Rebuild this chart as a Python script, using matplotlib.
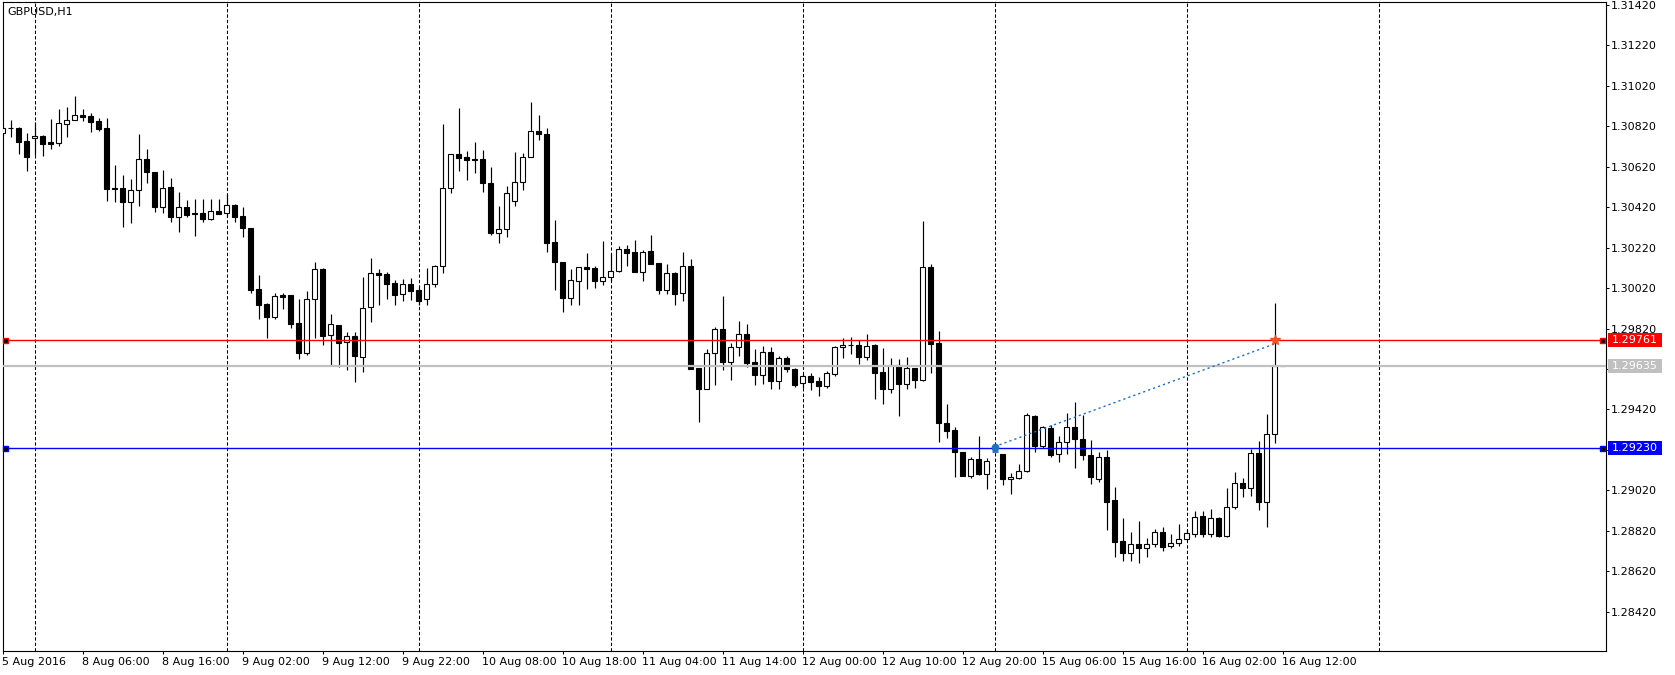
import matplotlib
matplotlib.use('Agg')
import matplotlib.pyplot as plt
import matplotlib.transforms as mtransforms
from matplotlib.patches import Rectangle
import numpy as np

# ---- GBPUSD H1 candles, 5 Aug 2016 20:00 .. 16 Aug 2016 12:00 (bar index -4 .. 156) ----
first_index = -4

open_ = [
    1.30786, 1.30813, 1.30812, 1.30747, 1.30761, 1.30772, 1.30743, 1.30739, 1.30830, 1.30850,
    1.30875, 1.30871, 1.30846, 1.30812, 1.30514, 1.30514, 1.30444, 1.30504, 1.30657, 1.30594,
    1.30420, 1.30519, 1.30370, 1.30420, 1.30393, 1.30390, 1.30362, 1.30401, 1.30390, 1.30431,
    1.30377, 1.30316, 1.30016, 1.29941, 1.29879, 1.29984, 1.29986, 1.29846, 1.29701, 1.29965,
    1.30114, 1.29787, 1.29836, 1.29752, 1.29783, 1.29681, 1.29925, 1.30095, 1.30090,
    1.30045, 1.29989, 1.30040, 1.30011, 1.29968, 1.30039, 1.30128, 1.30514, 1.30683, 1.30670,
    1.30657, 1.30657, 1.30540, 1.30291, 1.30311, 1.30451, 1.30546, 1.30667, 1.30797, 1.30782,
    1.30247, 1.30151, 1.29971, 1.30057, 1.30123, 1.30118, 1.30057, 1.30076, 1.30106, 1.30212,
    1.30197, 1.30101, 1.30202, 1.30144, 1.30012, 1.30096, 1.29994, 1.30128, 1.29623, 1.29521,
    1.29698, 1.29818, 1.29656, 1.29727, 1.29793, 1.29653, 1.29592, 1.29703, 1.29559, 1.29673,
    1.29620, 1.29549, 1.29584, 1.29559, 1.29537, 1.29595, 1.29727, 1.29737, 1.29737,
    1.29678, 1.29739, 1.29604, 1.29523, 1.29638, 1.29547, 1.29625, 1.29567, 1.30123, 1.29749,
    1.29354, 1.29318, 1.29208, 1.29092, 1.29173, 1.29099, 1.29234, 1.29200, 1.29075, 1.29082,
    1.29117, 1.29388, 1.29239, 1.29327, 1.29200, 1.29260, 1.29332, 1.29272, 1.29195, 1.29076,
    1.29186, 1.28972, 1.28769, 1.28712, 1.28753, 1.28733, 1.28753, 1.28812, 1.28745, 1.28758,
    1.28778, 1.28803, 1.28892, 1.28803, 1.28882, 1.28796, 1.28939, 1.29055, 1.29030, 1.29203,
    1.28964, 1.29297, 1.29635,
]

high_ = [
    1.30822, 1.30851, 1.30818, 1.30786, 1.30843, 1.30777, 1.30855, 1.30906, 1.30914, 1.30970,
    1.30904, 1.30887, 1.30860, 1.30860, 1.30629, 1.30579, 1.30560, 1.30782, 1.30708, 1.30594,
    1.30604, 1.30563, 1.30494, 1.30456, 1.30459, 1.30459, 1.30459, 1.30459, 1.30484, 1.30436,
    1.30420, 1.30317, 1.30085, 1.29948, 1.29996, 1.29996, 1.29986, 1.29966, 1.30006, 1.30149,
    1.30118, 1.29890, 1.29836, 1.29801, 1.29801, 1.30073, 1.30167, 1.30113, 1.30101, 1.30059,
    1.30064, 1.30070, 1.30027, 1.30119, 1.30134, 1.30832, 1.30683, 1.30909, 1.30698, 1.30741,
    1.30703, 1.30620, 1.30426, 1.30526, 1.30692, 1.30687, 1.30939, 1.30876, 1.30810, 1.30357,
    1.30151, 1.30113, 1.30126, 1.30194, 1.30128, 1.30251, 1.30189, 1.30228, 1.30233, 1.30258,
    1.30208, 1.30283, 1.30144, 1.30139, 1.30101, 1.30199, 1.30162, 1.29623, 1.29717, 1.29826,
    1.29981, 1.29750, 1.29859, 1.29843, 1.29717, 1.29734, 1.29729, 1.29686, 1.29686, 1.29625,
    1.29595, 1.29599, 1.29582, 1.29612, 1.29735, 1.29775, 1.29780, 1.29763, 1.29793, 1.29744,
    1.29724, 1.29674, 1.29671, 1.29678, 1.29625, 1.30352, 1.30139, 1.29808, 1.29447, 1.29332,
    1.29211, 1.29183, 1.29289, 1.29178, 1.29249, 1.29200, 1.29104, 1.29149, 1.29404, 1.29393,
    1.29340, 1.29343, 1.29289, 1.29401, 1.29455, 1.29393, 1.29269, 1.29210, 1.29219, 1.29038,
    1.28885, 1.28814, 1.28868, 1.28783, 1.28827, 1.28837, 1.28803, 1.28853, 1.28827, 1.28918,
    1.28918, 1.28928, 1.28887, 1.29030, 1.29109, 1.29079, 1.29223, 1.29265, 1.29397, 1.29948,
    1.29635,
]

low_ = [
    1.30777, 1.30769, 1.30683, 1.30601, 1.30678, 1.30675, 1.30709, 1.30724, 1.30769, 1.30850,
    1.30848, 1.30793, 1.30797, 1.30451, 1.30447, 1.30324, 1.30343, 1.30428, 1.30541, 1.30398,
    1.30393, 1.30348, 1.30299, 1.30373, 1.30279, 1.30348, 1.30357, 1.30386, 1.30373, 1.30348,
    1.30274, 1.29997, 1.29867, 1.29775, 1.29867, 1.29918, 1.29824, 1.29668, 1.29689, 1.29772,
    1.29739, 1.29636, 1.29631, 1.29615, 1.29557, 1.29607, 1.29854, 1.29936, 1.29968, 1.29938,
    1.29956, 1.29961, 1.29936, 1.29936, 1.30027, 1.30096, 1.30489, 1.30601, 1.30555, 1.30588,
    1.30497, 1.30283, 1.30242, 1.30274, 1.30428, 1.30505, 1.30667, 1.30752, 1.30200, 1.30011,
    1.29903, 1.29936, 1.29936, 1.30016, 1.30021, 1.30034, 1.30055, 1.30101, 1.30131, 1.30101,
    1.30055, 1.30141, 1.29991, 1.29991, 1.29936, 1.29956, 1.29620, 1.29359, 1.29521, 1.29541,
    1.29615, 1.29566, 1.29686, 1.29631, 1.29541, 1.29546, 1.29521, 1.29521, 1.29604, 1.29529,
    1.29525, 1.29516, 1.29488, 1.29525, 1.29587, 1.29676, 1.29693, 1.29645, 1.29664, 1.29472,
    1.29448, 1.29503, 1.29389, 1.29520, 1.29525, 1.29559, 1.29602, 1.29260, 1.29280, 1.29087,
    1.29091, 1.29082, 1.29096, 1.29027, 1.29214, 1.29048, 1.29000, 1.29075, 1.29112, 1.29211,
    1.29228, 1.29186, 1.29162, 1.29200, 1.29132, 1.29170, 1.29050, 1.29061, 1.28824, 1.28692,
    1.28672, 1.28672, 1.28659, 1.28689, 1.28741, 1.28721, 1.28733, 1.28745, 1.28774, 1.28788,
    1.28788, 1.28791, 1.28791, 1.28791, 1.28928, 1.28988, 1.28992, 1.28923, 1.28840, 1.29256,
    1.29635,
]

close_ = [
    1.30813, 1.30812, 1.30744, 1.30670, 1.30772, 1.30733, 1.30733, 1.30835, 1.30851, 1.30875,
    1.30868, 1.30843,
    1.30808, 1.30512, 1.30512, 1.30444, 1.30504, 1.30657, 1.30593, 1.30420, 1.30514, 1.30370,
    1.30420, 1.30382, 1.30386, 1.30363, 1.30400, 1.30388, 1.30429, 1.30373, 1.30316, 1.30011,
    1.29936, 1.29879, 1.29979, 1.29978, 1.29844, 1.29701, 1.29965, 1.30113, 1.29785, 1.29841,
    1.29750, 1.29782, 1.29686, 1.29920, 1.30093, 1.30086, 1.30042, 1.29987, 1.30039, 1.30007,
    1.29958, 1.30039, 1.30129, 1.30514, 1.30682, 1.30665, 1.30655, 1.30655, 1.30538, 1.30291,
    1.30311, 1.30489, 1.30546, 1.30667, 1.30795, 1.30781, 1.30245, 1.30151, 1.29973, 1.30059,
    1.30123, 1.30116, 1.30057, 1.30076, 1.30106, 1.30212, 1.30195, 1.30101, 1.30200, 1.30141,
    1.30012, 1.30093, 1.29992, 1.30128, 1.29620, 1.29521, 1.29698, 1.29818, 1.29656, 1.29727,
    1.29793, 1.29651, 1.29592, 1.29703, 1.29559, 1.29673, 1.29618, 1.29542, 1.29584, 1.29557,
    1.29537, 1.29599, 1.29727, 1.29737, 1.29737, 1.29678, 1.29732, 1.29602, 1.29523, 1.29638,
    1.29547, 1.29625, 1.29567, 1.30123, 1.29745, 1.29351, 1.29315, 1.29211, 1.29092, 1.29173,
    1.29099, 1.29164, 1.29224, 1.29075, 1.29084, 1.29117, 1.29393, 1.29239, 1.29332, 1.29195,
    1.29260, 1.29332, 1.29272, 1.29195, 1.29084, 1.29183, 1.28964, 1.28766, 1.28712, 1.28753,
    1.28733, 1.28753, 1.28812, 1.28741, 1.28758, 1.28778, 1.28807, 1.28887, 1.28803, 1.28882,
    1.28796, 1.28936, 1.29055, 1.29030, 1.29203, 1.28964, 1.29297, 1.29635, 1.29635,
]

day_starts = [0, 24, 48, 72, 96, 120, 144, 168]   # bar index of 00:00 of each day
tick_idx = [-4, 6, 16, 26, 36, 46, 56, 66, 76, 86, 96, 106, 116, 126, 136, 146, 156]
tick_labels = ['5 Aug 2016', '8 Aug 06:00', '8 Aug 16:00', '9 Aug 02:00', '9 Aug 12:00',
               '9 Aug 22:00', '10 Aug 08:00', '10 Aug 18:00', '11 Aug 04:00', '11 Aug 14:00',
               '12 Aug 00:00', '12 Aug 10:00', '12 Aug 20:00', '15 Aug 06:00', '15 Aug 16:00',
               '16 Aug 02:00', '16 Aug 12:00']
price_ticks = [1.28420, 1.28620, 1.28820, 1.29020, 1.29220, 1.29420, 1.29620, 1.29820,
               1.30020, 1.30220, 1.30420, 1.30620, 1.30820, 1.31020, 1.31220, 1.31420]
level_prices = [1.29761, 1.29635, 1.29230]
level_colors = ['#FF0000', '#C0C0C0', '#0000FF']
trade_idx = [120, 155]
trade_prices = [1.29236, 1.29744]

# ---- figure ----
plt.rcParams['font.family'] = ['DejaVu Sans']
plt.rcParams['font.size'] = 8
plt.rcParams['lines.scale_dashes'] = False

W, H = 1675, 675
fig = plt.figure(figsize=(W / 100, H / 100), dpi=100)
axl, axr, axt, axb = 2.5, 1605.5, 2.0, 651.0
ax = fig.add_axes([axl / W, 1 - axb / H, (axr - axl) / W, (axb - axt) / H])
ymin, ymax = 1.282255, 1.314348
ax.set_xlim(first_index, first_index + (axr - axl) / 8.0)
ax.set_ylim(ymin, ymax)

o = np.array(open_)
h = np.array(high_)
l = np.array(low_)
c = np.array(close_)
x = np.arange(len(o)) + first_index

ax.vlines(day_starts, 0, 1, transform=ax.get_xaxis_transform(), colors='black',
          linestyles=(0, (2.4, 1.5)), lw=0.75, zorder=1)
ax.vlines(x, l, h, color='black', lw=0.85, zorder=3)
bottom = np.minimum(o, c)
height = np.abs(c - o)
bull = c > o
ax.bar(x[bull], height[bull], bottom=bottom[bull], width=0.52, color='white',
       edgecolor='black', lw=0.8, zorder=4)
ax.bar(x[~bull], height[~bull], bottom=bottom[~bull], width=0.52, color='black',
       edgecolor='black', lw=0.8, zorder=4)

trans = mtransforms.blended_transform_factory(ax.transAxes, ax.transData)
px_per_price = (axb - axt) / (ymax - ymin)
lws = [1.0, 1.6, 1.0]
for p, col, lw in zip(level_prices, level_colors, lws):
    ax.axhline(p, color=col, lw=lw, zorder=5)
    hh = 7.0 / px_per_price
    ax.add_patch(Rectangle(((1608.3 - axl) / (axr - axl), p - hh), 53.4 / (axr - axl), 2 * hh,
                           transform=trans, facecolor=col, edgecolor='none', clip_on=False,
                           zorder=8))
    ax.text((1635.0 - axl) / (axr - axl), p, '%.5f' % p, transform=trans, color='white',
            ha='center', va='center', fontsize=8, zorder=9, clip_on=False)
for p, col in zip([level_prices[0], level_prices[2]], [level_colors[0], level_colors[2]]):
    ax.plot([(5 - axl) / (axr - axl), (1602.3 - axl) / (axr - axl)], [p, p], ls='none',
            marker='s', ms=3.6, mfc='black', mec=col, mew=1.0, transform=trans,
            clip_on=False, zorder=7)

ax.plot(trade_idx, trade_prices, color='#1F6FC5', lw=1.0, ls=(0, (1.6, 2.2)), zorder=6)
ax.plot([trade_idx[0]], [trade_prices[0]], marker='o', ms=4.5, color='#1F6FC5', zorder=7)
ax.plot([trade_idx[0]], [trade_prices[0] - 4.5 / px_per_price], marker='_', ms=5, mew=2,
        color='#1F6FC5', zorder=7)
ax.plot([trade_idx[1]], [level_prices[0]], marker='*', ms=7, color='#F0502D', zorder=7)

ax.text((7 - axl) / (axr - axl), 1 - (12.5 - axt) / (axb - axt), 'GBPUSD,H1',
        transform=ax.transAxes, ha='left', va='center', fontsize=8)

ax.yaxis.tick_right()
ax.set_yticks(price_ticks)
ax.set_yticklabels(['%.5f' % v for v in price_ticks])
ax.set_xticks(tick_idx)
ax.set_xticklabels(tick_labels, ha='left')
ax.tick_params(axis='y', direction='out', length=2.5, width=0.75, pad=1, labelsize=8)
ax.tick_params(axis='x', direction='out', length=2.5, width=0.75, pad=1.5, labelsize=8)
for s in ax.spines.values():
    s.set_linewidth(0.8)
    s.set_color('black')

fig.savefig('out.png', dpi=100)
